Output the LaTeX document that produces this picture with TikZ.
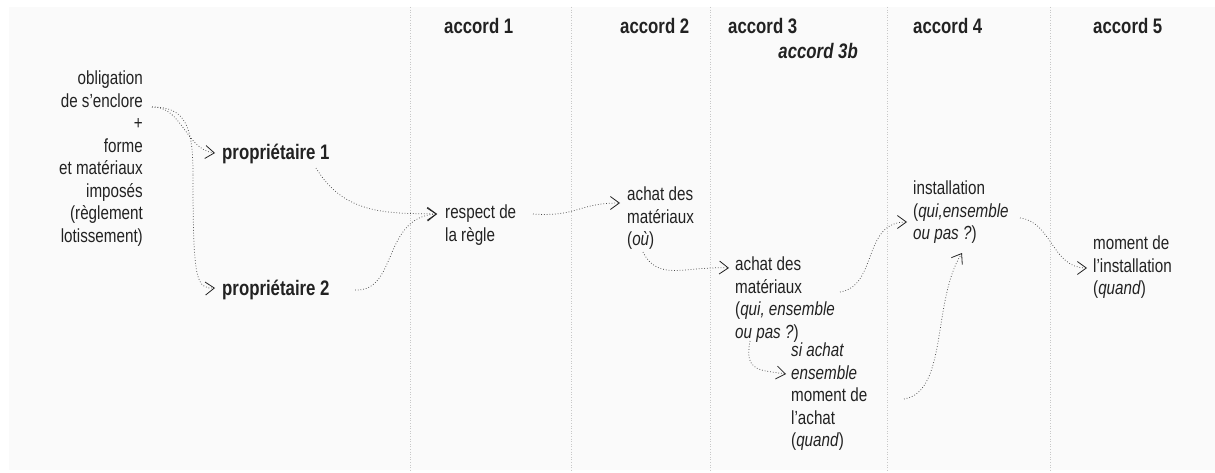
\documentclass[tikz,border=0pt]{standalone}
\usepackage{fontspec}
\setmainfont{Liberation Sans}[FakeStretch=0.8]
\usetikzlibrary{arrows.meta}
\definecolor{txt}{HTML}{222222}
\definecolor{link}{HTML}{4A4A4A}
\definecolor{sep}{HTML}{C8C8C8}
\definecolor{panel}{HTML}{FAFAFA}
\tikzset{
  lbl/.style={inner sep=0pt, text=txt, font=\fontsize{19}{22.5}\selectfont},
  head/.style={inner sep=0pt, text=txt, font=\fontsize{21}{24}\selectfont\bfseries},
  conn/.style={draw=link, line width=0.75pt, dotted,
    -{Straight Barb[length=9pt,width=13pt,line width=0.8pt,color=txt]}},
  plainconn/.style={draw=link, line width=0.75pt, dotted},
  separator/.style={draw=sep, line width=0.6pt, dotted}
}
\begin{document}
\begin{tikzpicture}[x=1pt,y=-1pt]
\useasboundingbox (0,0) rectangle (1215,473);
\fill[panel] (9,7) rectangle (1215,470);
% column separators
\foreach \xx/\nm in {410/s1,571/s2,710/s3,887/s4,1050/s5}{
  \coordinate (\nm top) at (\xx,7);
  \coordinate (\nm bot) at (\xx,470);
  \draw[separator] (\nm top) -- (\nm bot);
}
% headings
\node[head, anchor=base west] (h1) at (444,34) {accord 1};
\node[head, anchor=base west] (h2) at (620,34) {accord 2};
\node[head, anchor=base west] (h3) at (728,34) {accord 3};
\node[head, anchor=base east] (h3b) at (858,59) {\itshape accord 3b};
\node[head, anchor=base west] (h4) at (913,34) {accord 4};
\node[head, anchor=base west] (h5) at (1093,34) {accord 5};
% nodes
\node[lbl, anchor=north east, align=right] (obl) at (143,71)
  {obligation\\de s’enclore\\+\\forme\\et matériaux\\imposés\\(règlement\\lotissement)};
\node[head, anchor=base west] (p1) at (222,160) {propriétaire 1};
\node[head, anchor=base west] (p2) at (222,295) {propriétaire 2};
\node[lbl, anchor=north west, align=left] (resp) at (445,205) {respect de\\la règle};
\node[lbl, anchor=north west, align=left] (ach1) at (627,187) {achat des\\matériaux\\(\textit{où})};
\node[lbl, anchor=north west, align=left] (ach2) at (735,257)
  {achat des\\matériaux\\(\textit{qui, ensemble}\\\textit{ou pas ?})};
\node[lbl, anchor=north west, align=left] (si) at (791,343)
  {\textit{si achat}\\\textit{ensemble}\\moment de\\l’achat\\(\textit{quand})};
\node[lbl, anchor=north west, align=left] (inst) at (913,181)
  {installation\\(\textit{qui,ensemble}\\\textit{ou pas ?})};
\node[lbl, anchor=north west, align=left] (mom) at (1093,236)
  {moment de\\l’installation\\(\textit{quand})};
% connector end points
\coordinate (oout) at (152,107);
\coordinate (osplit) at (193,175);
\coordinate (p1in) at (215,153);
\coordinate (p2in) at (215,288);
\coordinate (p1out) at (316,168);
\coordinate (p2out) at (355,290);
\coordinate (rin) at (437,214);
\coordinate (rout) at (533,214);
\coordinate (a1in) at (620,203);
\coordinate (a1out) at (643,252);
\coordinate (a2in) at (729,268);
\coordinate (a2out) at (840,292);
\coordinate (a2down) at (750,341);
\coordinate (siin) at (786,374);
\coordinate (siout) at (904,399);
\coordinate (iin) at (907,222);
\coordinate (iup) at (962,253);
\coordinate (iout) at (1020,218);
\coordinate (min) at (1087,268);
% connectors
\draw[conn] (oout) .. controls (182,106) and (186,150) .. (p1in);
\draw[plainconn] (oout) .. controls (185,107) and (193,125) .. (osplit);
\draw[conn] (osplit) .. controls (193,280) and (196,289) .. (p2in);
\draw[conn] (p1out) .. controls (345,216) and (390,213) .. (rin);
\draw[conn] (p2out) .. controls (398,292) and (382,217) .. (rin);
\draw[conn] (rout) .. controls (578,217) and (578,203) .. (a1in);
\draw[conn] (a1out) .. controls (658,282) and (685,266) .. (a2in);
\draw[conn] (a2out) .. controls (878,286) and (862,222) .. (iin);
\draw[conn] (a2down) .. controls (744,372) and (760,370) .. (siin);
\draw[conn] (siout) .. controls (948,392) and (932,300) .. (iup);
\draw[conn] (iout) .. controls (1052,222) and (1052,268) .. (min);
\end{tikzpicture}
\end{document}
